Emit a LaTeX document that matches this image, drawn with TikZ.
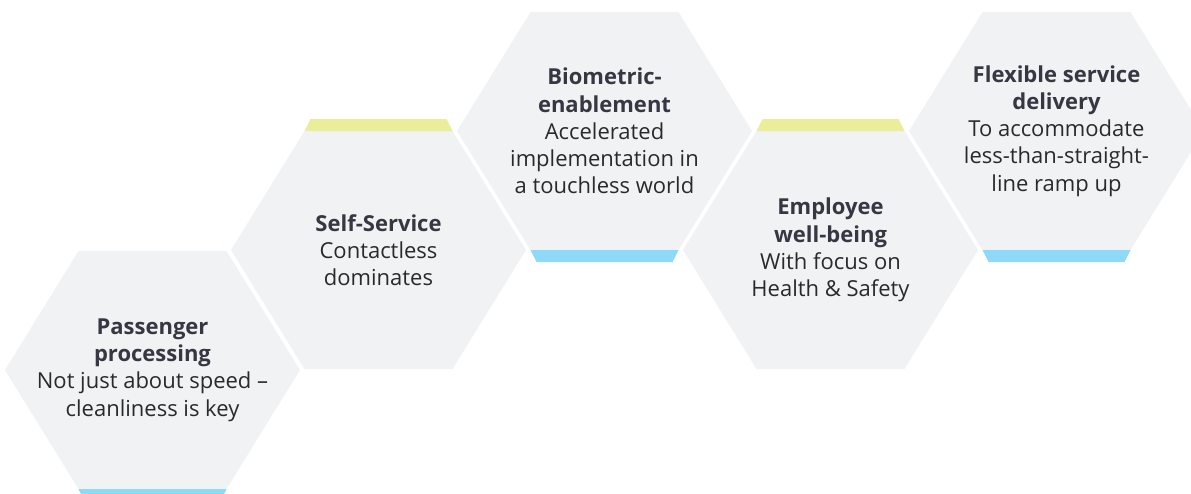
\documentclass[tikz,border=0pt]{standalone}
\usepackage{fontspec}
\setmainfont{Open Sans}
\definecolor{hexgray}{HTML}{F1F2F4}
\definecolor{stripyellow}{HTML}{EAEE9B}
\definecolor{stripblue}{HTML}{8ED8F8}
\definecolor{titlecol}{HTML}{363742}
\definecolor{textcol}{HTML}{2A2A2A}
\newcommand{\hd}[1]{{\color{titlecol}\bfseries #1}}
\tikzset{
  hexlabel/.style={align=center, text=textcol, inner sep=0pt,
    font=\fontsize{22}{27.2}\selectfont},
}
\begin{document}
\begin{tikzpicture}[x=1pt, y=-1pt]
\useasboundingbox (0,0) rectangle (1191,493);
\clip (0,0) rectangle (1191,493);

% Centres des hexagones
\coordinate (c1) at (152.5,370);
\coordinate (c2) at (378.5,250);
\coordinate (c3) at (604.5,131);
\coordinate (c4) at (830.5,250);
\coordinate (c5) at (1056.5,131);

% Hexagones gris
\foreach \n in {1,...,5} {
  \fill[hexgray] (c\n) ++(-147.5,0) -- ++(73.5,-119) -- ++(148,0)
    -- ++(73.5,119) -- ++(-73.5,119) -- ++(-148,0) -- cycle;
}

% Bandes de couleur (haut jaune, bas bleu)
\foreach \n in {2,4} {
  \fill[stripyellow] (c\n) ++(-74,-119) -- ++(6,-12) -- ++(136,0)
    -- ++(6,12) -- cycle;
}
\foreach \n in {1,3,5} {
  \fill[stripblue] (c\n) ++(-74,119) -- ++(6,12) -- ++(136,0)
    -- ++(6,-12) -- cycle;
}

% Textes
\node[hexlabel] (t1) at (c1) {\hd{Passenger}\\\hd{processing}\\Not just about speed --\\cleanliness is key};
\node[hexlabel] (t2) at (c2) {\hd{Self-Service}\\Contactless\\dominates};
\node[hexlabel] (t3) at (c3) {\hd{Biometric-}\\\hd{enablement}\\Accelerated\\implementation in\\a touchless world};
\node[hexlabel] (t4) at (c4) {\hd{Employee}\\\hd{well-being}\\With focus on\\Health \& Safety};
\node[hexlabel] (t5) at (c5) {\hd{Flexible service}\\\hd{delivery}\\To accommodate\\less-than-straight-\\line ramp up};

\end{tikzpicture}
\end{document}
